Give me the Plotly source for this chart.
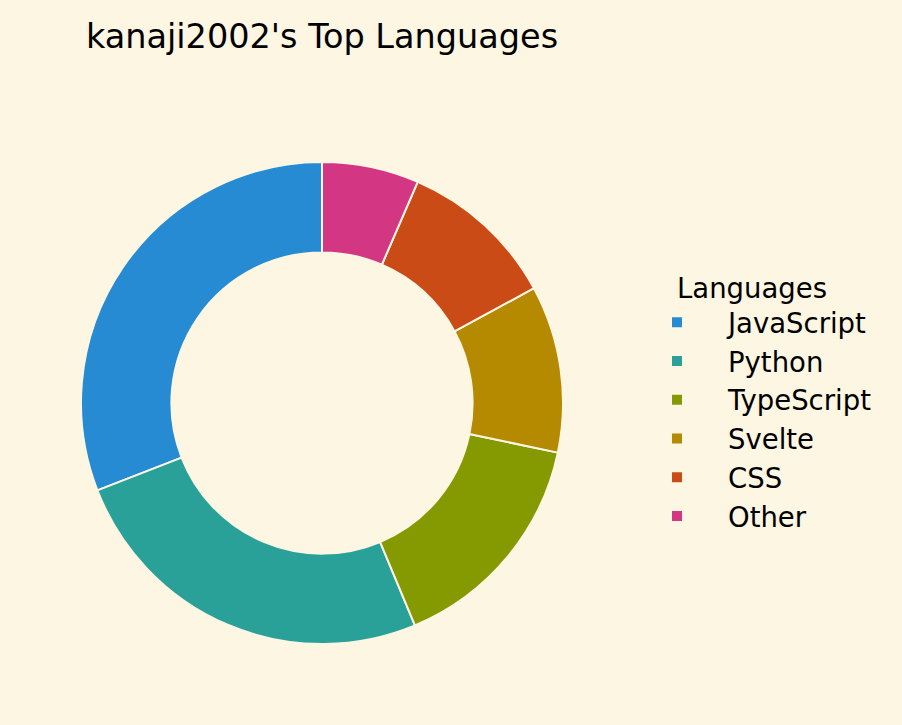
import plotly.graph_objects as go

languages = ["JavaScript", "Python", "TypeScript", "Svelte", "CSS", "Other"]
shares = [30.9, 25.4, 15.4, 11.2, 10.6, 6.5]
colors = ["#268bd2", "#2aa198", "#859900", "#b58900", "#cb4b16", "#d33682"]

W, H = 902, 725
cx, cy, R = 322, 403, 241

# plotly draws a counterclockwise pie so the first slice ends at the rotation angle;
# rotate so the first slice starts at 12 o'clock instead
first_angle = 360.0 * shares[0] / sum(shares)

fig = go.Figure(go.Pie(
    labels=languages,
    values=shares,
    marker=dict(colors=colors, line=dict(color="#fdf6e3", width=2)),
    hole=0.625,
    sort=False,
    direction="counterclockwise",
    rotation=-first_angle,
    textinfo="none",
    hoverinfo="label+percent",
    domain=dict(x=[(cx - R) / W, (cx + R) / W], y=[(H - cy - R) / H, (H - cy + R) / H]),
))

fig.update_layout(
    width=W, height=H,
    margin=dict(l=0, r=0, t=0, b=0),
    paper_bgcolor="#fdf6e3",
    plot_bgcolor="#fdf6e3",
    font=dict(family="DejaVu Sans", color="#000000"),
    title=dict(text="kanaji2002's Top Languages", x=cx / W, xanchor="center",
               y=1 - 36 / H, yanchor="middle", font=dict(size=33.5, family="DejaVu Sans")),
    legend=dict(
        title=dict(text="Languages", side="top center", font=dict(size=27.5)),
        font=dict(size=27.5),
        x=626 / W, xanchor="left", y=1 - 262 / H, yanchor="top",
        bgcolor="rgba(0,0,0,0)",
        itemwidth=92,
    ),
)

fig.write_html("out.html")
